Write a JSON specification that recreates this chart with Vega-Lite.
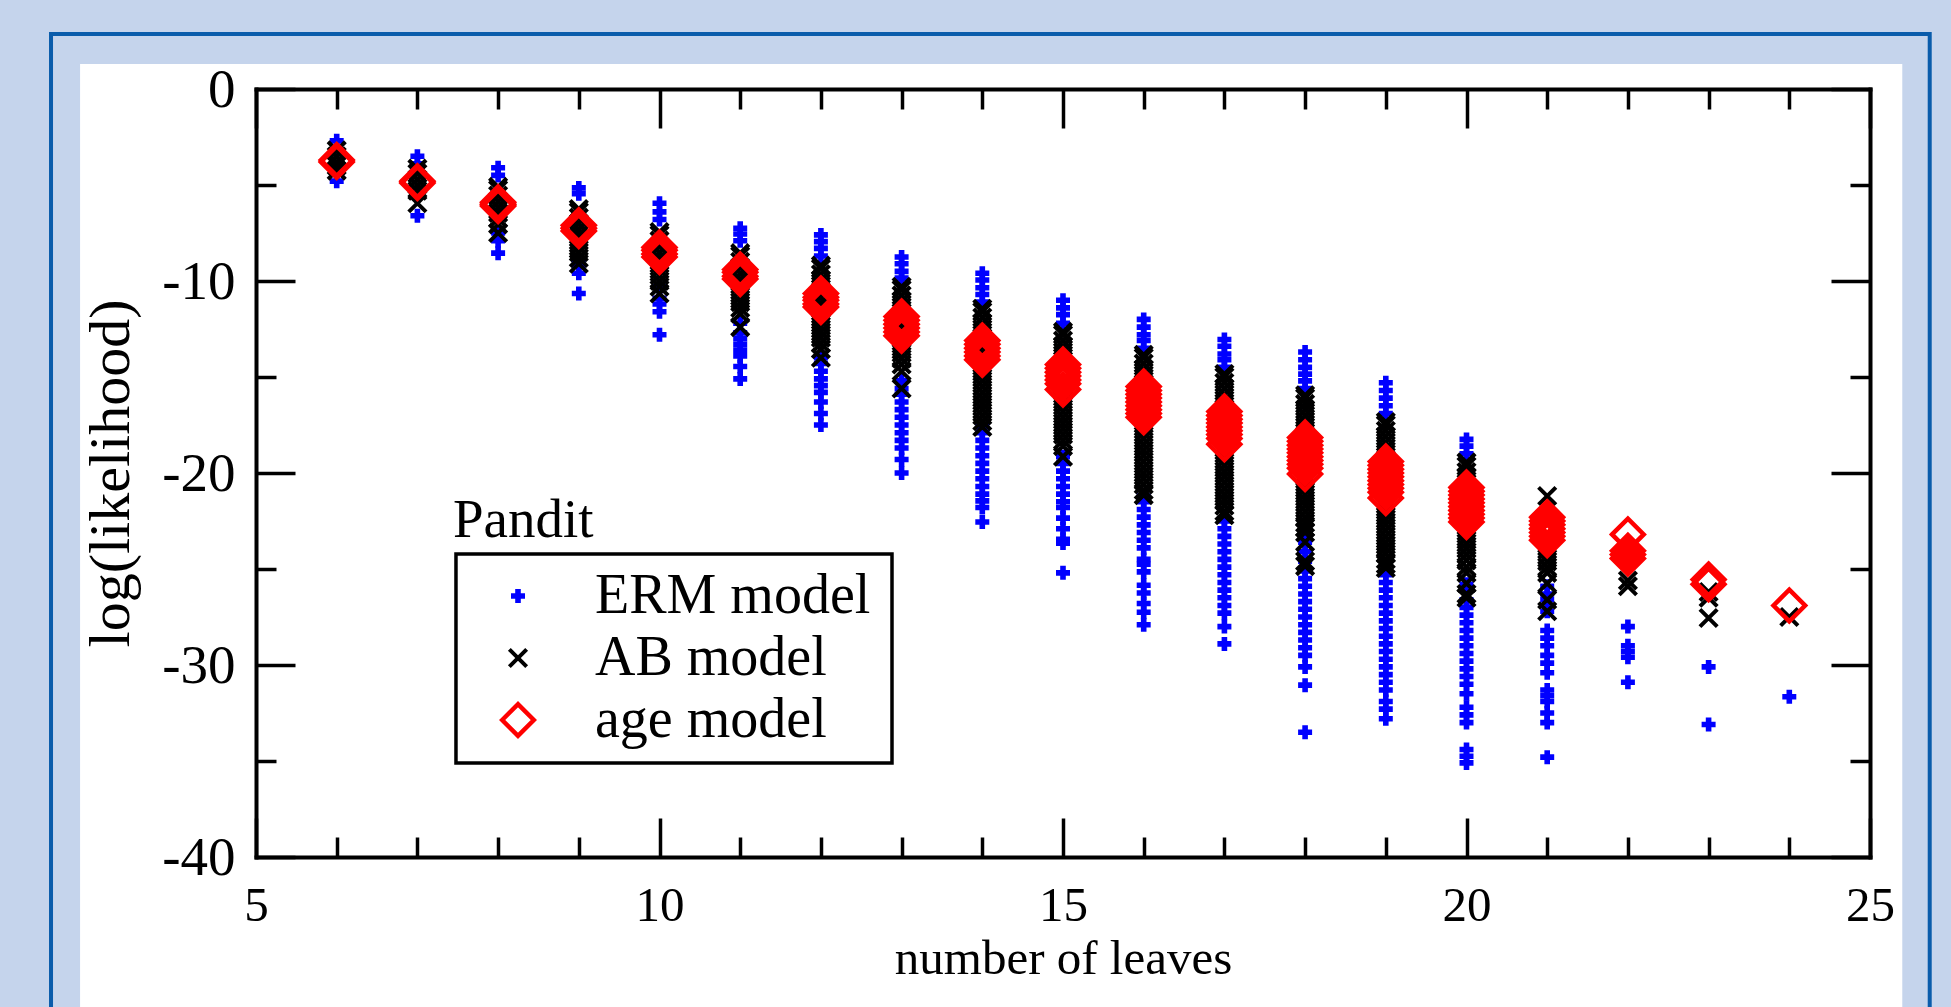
{"$schema":"https://vega.github.io/schema/vega-lite/v6.json","width":1614,"height":768,"padding":{"left":256,"top":89,"right":81,"bottom":150},"autosize":"none","background":"#C5D4EC","config":{"view":{"stroke":null},"axis":{"grid":false,"domainColor":"#000","tickColor":"#000","labelColor":"#000","titleColor":"#000","labelFont":"Liberation Serif","titleFont":"Liberation Serif","titleFontWeight":"normal","domainWidth":4,"domainCap":"square","labelOverlap":false,"labelBound":false,"labelFlush":false},"legend":{"labelFont":"Liberation Serif","labelFontSize":56,"labelColor":"#000","padding":0,"rowPadding":6,"labelOffset":49,"labelLimit":400}},"resolve":{"axis":{"x":"independent","y":"independent"}},"layer":[
{"data":{"values":[{"panel":"frame"}]},"mark":{"type":"rect","fill":"#C5D4EC","stroke":"#0A5CAB","strokeWidth":4},"encoding":{"x":{"datum":2.46,"type":"quantitative","scale":{"domain":[5,25],"nice":false},"axis":{"zindex":1,"orient":"bottom","values":[5,10,15,20,25],"tickSize":-39,"tickWidth":3.5,"labelFontSize":49,"labelPadding":63,"title":"number of leaves","titleFontSize":49,"titlePadding":4,"labelExpr":"''+datum.value"}},"x2":{"datum":25.74},"y":{"datum":2.865,"type":"quantitative","scale":{"domain":[-40,0],"nice":false},"axis":{"zindex":1,"orient":"left","values":[-40,-30,-20,-10,0],"tickSize":-39,"tickWidth":3.5,"labelFontSize":55,"labelPadding":60,"title":"log(likelihood)","titleFontSize":58,"titlePadding":21,"labelExpr":"''+datum.value"}},"y2":{"datum":-50}}},
{"data":{"values":[{"panel":"white"}]},"mark":{"type":"rect","fill":"#fff"},"encoding":{"x":{"datum":2.82,"type":"quantitative","scale":{"domain":[5,25],"nice":false},"axis":{"zindex":1,"orient":"bottom","values":[6,7,8,9,11,12,13,14,16,17,18,19,21,22,23,24],"tickSize":-20,"tickWidth":3.5,"domain":false,"labels":false,"title":null}},"x2":{"datum":25.4},"y":{"datum":1.3,"type":"quantitative","scale":{"domain":[-40,0],"nice":false},"axis":{"zindex":1,"orient":"left","values":[-35,-25,-15,-5],"tickSize":-20,"tickWidth":3.5,"domain":false,"labels":false,"title":null}},"y2":{"datum":-50}}},
{"data":{"values":[{"panel":"legend box"}]},"mark":{"type":"rect","fill":"#fff","stroke":"#000","strokeWidth":3.5},"encoding":{"x":{"datum":7.478,"type":"quantitative","scale":{"domain":[5,25],"nice":false},"axis":{"zindex":1,"orient":"top","values":[5,10,15,20,25],"tickSize":-39,"tickWidth":3.5,"labels":false,"title":null}},"x2":{"datum":12.881},"y":{"datum":-24.22,"type":"quantitative","scale":{"domain":[-40,0],"nice":false},"axis":{"zindex":1,"orient":"right","values":[-40,-30,-20,-10,0],"tickSize":-39,"tickWidth":3.5,"labels":false,"title":null}},"y2":{"datum":-35.1}}},
{"data":{"values":[{"t":"Pandit"}]},"mark":{"type":"text","align":"left","baseline":"alphabetic","font":"Liberation Serif","fontSize":55,"color":"#000"},"encoding":{"text":{"field":"t"},"x":{"datum":7.44,"type":"quantitative","scale":{"domain":[5,25],"nice":false},"axis":{"zindex":1,"orient":"top","values":[6,7,8,9,11,12,13,14,16,17,18,19,21,22,23,24],"tickSize":-20,"tickWidth":3.5,"domain":false,"labels":false,"title":null}},"y":{"datum":-23.33,"type":"quantitative","scale":{"domain":[-40,0],"nice":false},"axis":{"zindex":1,"orient":"right","values":[-35,-25,-15,-5],"tickSize":-20,"tickWidth":3.5,"domain":false,"labels":false,"title":null}}}},
{"data":{"values":[
{"n":6,"m":"ERM","v":-2.7},{"n":6,"m":"ERM","v":-3.3},{"n":6,"m":"ERM","v":-4.8},{"n":7,"m":"ERM","v":-3.5},{"n":7,"m":"ERM","v":-3.9},{"n":7,"m":"ERM","v":-5.5},{"n":7,"m":"ERM","v":-6.6},
{"n":8,"m":"ERM","v":-4.1},{"n":8,"m":"ERM","v":-4.5},{"n":8,"m":"ERM","v":-7.5},{"n":8,"m":"ERM","v":-7.9},{"n":8,"m":"ERM","v":-8.55},
{"n":9,"m":"ERM","v":-5.15},{"n":9,"m":"ERM","v":-5.45},{"n":9,"m":"ERM","v":-9},{"n":9,"m":"ERM","v":-9.2},{"n":9,"m":"ERM","v":-9.6},{"n":9,"m":"ERM","v":-10.65},
{"n":10,"m":"ERM","v":-5.95},{"n":10,"m":"ERM","v":-6.4},{"n":10,"m":"ERM","v":-6.8},{"n":10,"m":"ERM","v":-10.3},{"n":10,"m":"ERM","v":-10.9},{"n":10,"m":"ERM","v":-11.2},{"n":10,"m":"ERM","v":-11.6},{"n":10,"m":"ERM","v":-12.8},
{"n":11,"m":"ERM","v":-7.25},{"n":11,"m":"ERM","v":-7.55},{"n":11,"m":"ERM","v":-7.9},{"n":11,"m":"ERM","v":-12.2},{"n":11,"m":"ERM","v":-12.7},{"n":11,"m":"ERM","v":-13},{"n":11,"m":"ERM","v":-13.3},{"n":11,"m":"ERM","v":-13.6},{"n":11,"m":"ERM","v":-13.9},{"n":11,"m":"ERM","v":-14.45},{"n":11,"m":"ERM","v":-15.1},
{"n":12,"m":"ERM","v":-7.6},{"n":12,"m":"ERM","v":-7.95},{"n":12,"m":"ERM","v":-8.3},{"n":12,"m":"ERM","v":-8.7},{"n":12,"m":"ERM","v":-14},{"n":12,"m":"ERM","v":-14.3},{"n":12,"m":"ERM","v":-14.7},{"n":12,"m":"ERM","v":-15.1},{"n":12,"m":"ERM","v":-15.45},{"n":12,"m":"ERM","v":-15.8},{"n":12,"m":"ERM","v":-16.3},{"n":12,"m":"ERM","v":-16.9},{"n":12,"m":"ERM","v":-17.5},
{"n":13,"m":"ERM","v":-8.75},{"n":13,"m":"ERM","v":-9.1},{"n":13,"m":"ERM","v":-9.5},{"n":13,"m":"ERM","v":-9.85},{"n":13,"m":"ERM","v":-15.2},{"n":13,"m":"ERM","v":-15.6},{"n":13,"m":"ERM","v":-15.9},{"n":13,"m":"ERM","v":-16.3},{"n":13,"m":"ERM","v":-16.7},{"n":13,"m":"ERM","v":-17.1},{"n":13,"m":"ERM","v":-17.5},{"n":13,"m":"ERM","v":-17.9},{"n":13,"m":"ERM","v":-18.3},{"n":13,"m":"ERM","v":-18.7},{"n":13,"m":"ERM","v":-19.3},{"n":13,"m":"ERM","v":-20},
{"n":14,"m":"ERM","v":-9.6},{"n":14,"m":"ERM","v":-9.95},{"n":14,"m":"ERM","v":-10.35},{"n":14,"m":"ERM","v":-10.7},{"n":14,"m":"ERM","v":-11.1},{"n":14,"m":"ERM","v":-17.6},{"n":14,"m":"ERM","v":-17.9},{"n":14,"m":"ERM","v":-18.3},{"n":14,"m":"ERM","v":-18.7},{"n":14,"m":"ERM","v":-19.1},{"n":14,"m":"ERM","v":-19.5},{"n":14,"m":"ERM","v":-19.9},{"n":14,"m":"ERM","v":-20.3},{"n":14,"m":"ERM","v":-20.7},{"n":14,"m":"ERM","v":-21.1},{"n":14,"m":"ERM","v":-21.45},{"n":14,"m":"ERM","v":-21.8},{"n":14,"m":"ERM","v":-22.55},
{"n":15,"m":"ERM","v":-11},{"n":15,"m":"ERM","v":-11.4},{"n":15,"m":"ERM","v":-11.75},{"n":15,"m":"ERM","v":-12.2},{"n":15,"m":"ERM","v":-19.15},{"n":15,"m":"ERM","v":-19.5},{"n":15,"m":"ERM","v":-19.9},{"n":15,"m":"ERM","v":-20.3},{"n":15,"m":"ERM","v":-20.7},{"n":15,"m":"ERM","v":-21.1},{"n":15,"m":"ERM","v":-21.5},{"n":15,"m":"ERM","v":-21.8},{"n":15,"m":"ERM","v":-22.35},{"n":15,"m":"ERM","v":-22.9},{"n":15,"m":"ERM","v":-23.45},{"n":15,"m":"ERM","v":-23.65},{"n":15,"m":"ERM","v":-25.2},
{"n":16,"m":"ERM","v":-12},{"n":16,"m":"ERM","v":-12.4},{"n":16,"m":"ERM","v":-12.8},{"n":16,"m":"ERM","v":-13.1},{"n":16,"m":"ERM","v":-13.5},{"n":16,"m":"ERM","v":-21.2},{"n":16,"m":"ERM","v":-21.5},{"n":16,"m":"ERM","v":-21.9},{"n":16,"m":"ERM","v":-22.3},{"n":16,"m":"ERM","v":-22.7},{"n":16,"m":"ERM","v":-23.1},{"n":16,"m":"ERM","v":-23.5},{"n":16,"m":"ERM","v":-23.9},{"n":16,"m":"ERM","v":-24.5},{"n":16,"m":"ERM","v":-24.75},{"n":16,"m":"ERM","v":-25.15},{"n":16,"m":"ERM","v":-25.85},{"n":16,"m":"ERM","v":-26.25},{"n":16,"m":"ERM","v":-26.8},{"n":16,"m":"ERM","v":-27.25},{"n":16,"m":"ERM","v":-27.9},
{"n":17,"m":"ERM","v":-13.05},{"n":17,"m":"ERM","v":-13.4},{"n":17,"m":"ERM","v":-13.8},{"n":17,"m":"ERM","v":-14.1},{"n":17,"m":"ERM","v":-14.5},{"n":17,"m":"ERM","v":-22.5},{"n":17,"m":"ERM","v":-22.9},{"n":17,"m":"ERM","v":-23.3},{"n":17,"m":"ERM","v":-23.7},{"n":17,"m":"ERM","v":-24.1},{"n":17,"m":"ERM","v":-24.5},{"n":17,"m":"ERM","v":-24.9},{"n":17,"m":"ERM","v":-25.3},{"n":17,"m":"ERM","v":-25.7},{"n":17,"m":"ERM","v":-26.1},{"n":17,"m":"ERM","v":-26.5},{"n":17,"m":"ERM","v":-26.9},{"n":17,"m":"ERM","v":-27.3},{"n":17,"m":"ERM","v":-28},{"n":17,"m":"ERM","v":-28.9},
{"n":18,"m":"ERM","v":-13.7},{"n":18,"m":"ERM","v":-14.1},{"n":18,"m":"ERM","v":-14.5},{"n":18,"m":"ERM","v":-14.85},{"n":18,"m":"ERM","v":-15.2},{"n":18,"m":"ERM","v":-15.6},{"n":18,"m":"ERM","v":-23.2},{"n":18,"m":"ERM","v":-23.6},{"n":18,"m":"ERM","v":-24.1},{"n":18,"m":"ERM","v":-24.6},{"n":18,"m":"ERM","v":-25.1},{"n":18,"m":"ERM","v":-25.5},{"n":18,"m":"ERM","v":-25.9},{"n":18,"m":"ERM","v":-26.3},{"n":18,"m":"ERM","v":-26.7},{"n":18,"m":"ERM","v":-27.1},{"n":18,"m":"ERM","v":-27.5},{"n":18,"m":"ERM","v":-27.9},{"n":18,"m":"ERM","v":-28.3},{"n":18,"m":"ERM","v":-28.7},{"n":18,"m":"ERM","v":-29.1},{"n":18,"m":"ERM","v":-29.5},{"n":18,"m":"ERM","v":-30.1},{"n":18,"m":"ERM","v":-31.05},{"n":18,"m":"ERM","v":-33.5},
{"n":19,"m":"ERM","v":-15.3},{"n":19,"m":"ERM","v":-15.7},{"n":19,"m":"ERM","v":-16.1},{"n":19,"m":"ERM","v":-16.5},{"n":19,"m":"ERM","v":-16.9},{"n":19,"m":"ERM","v":-25.3},{"n":19,"m":"ERM","v":-25.7},{"n":19,"m":"ERM","v":-26.1},{"n":19,"m":"ERM","v":-26.5},{"n":19,"m":"ERM","v":-26.9},{"n":19,"m":"ERM","v":-27.3},{"n":19,"m":"ERM","v":-27.7},{"n":19,"m":"ERM","v":-28.1},{"n":19,"m":"ERM","v":-28.5},{"n":19,"m":"ERM","v":-28.9},{"n":19,"m":"ERM","v":-29.3},{"n":19,"m":"ERM","v":-29.7},{"n":19,"m":"ERM","v":-30.1},{"n":19,"m":"ERM","v":-30.5},{"n":19,"m":"ERM","v":-30.9},{"n":19,"m":"ERM","v":-31.3},{"n":19,"m":"ERM","v":-31.9},{"n":19,"m":"ERM","v":-32.3},{"n":19,"m":"ERM","v":-32.8},
{"n":20,"m":"ERM","v":-18.25},{"n":20,"m":"ERM","v":-18.6},{"n":20,"m":"ERM","v":-19},{"n":20,"m":"ERM","v":-25.8},{"n":20,"m":"ERM","v":-26},{"n":20,"m":"ERM","v":-26.6},{"n":20,"m":"ERM","v":-27},{"n":20,"m":"ERM","v":-27.4},{"n":20,"m":"ERM","v":-27.8},{"n":20,"m":"ERM","v":-28.2},{"n":20,"m":"ERM","v":-28.6},{"n":20,"m":"ERM","v":-29},{"n":20,"m":"ERM","v":-29.4},{"n":20,"m":"ERM","v":-29.8},{"n":20,"m":"ERM","v":-30.2},{"n":20,"m":"ERM","v":-30.6},{"n":20,"m":"ERM","v":-31},{"n":20,"m":"ERM","v":-31.5},{"n":20,"m":"ERM","v":-32.2},{"n":20,"m":"ERM","v":-32.6},{"n":20,"m":"ERM","v":-33},{"n":20,"m":"ERM","v":-34.4},{"n":20,"m":"ERM","v":-34.75},{"n":20,"m":"ERM","v":-35.1},
{"n":21,"m":"ERM","v":-25.9},{"n":21,"m":"ERM","v":-26.3},{"n":21,"m":"ERM","v":-26.6},{"n":21,"m":"ERM","v":-27.2},{"n":21,"m":"ERM","v":-28.2},{"n":21,"m":"ERM","v":-28.6},{"n":21,"m":"ERM","v":-29},{"n":21,"m":"ERM","v":-29.5},{"n":21,"m":"ERM","v":-29.9},{"n":21,"m":"ERM","v":-30.4},{"n":21,"m":"ERM","v":-31.3},{"n":21,"m":"ERM","v":-31.6},{"n":21,"m":"ERM","v":-31.9},{"n":21,"m":"ERM","v":-32.5},{"n":21,"m":"ERM","v":-33},{"n":21,"m":"ERM","v":-34.8},
{"n":22,"m":"ERM","v":-28},{"n":22,"m":"ERM","v":-29},{"n":22,"m":"ERM","v":-29.3},{"n":22,"m":"ERM","v":-29.6},{"n":22,"m":"ERM","v":-30.9},{"n":23,"m":"ERM","v":-30.1},{"n":23,"m":"ERM","v":-33.1},{"n":24,"m":"ERM","v":-31.65},
{"n":6,"m":"AB","v":-3.2},{"n":6,"m":"AB","v":-3.5},{"n":6,"m":"AB","v":-3.8},{"n":6,"m":"AB","v":-4},{"n":6,"m":"AB","v":-4.25},
{"n":7,"m":"AB","v":-4.15},{"n":7,"m":"AB","v":-4.4},{"n":7,"m":"AB","v":-4.7},{"n":7,"m":"AB","v":-5},{"n":7,"m":"AB","v":-5.3},{"n":7,"m":"AB","v":-5.95},
{"n":8,"m":"AB","v":-5.1},{"n":8,"m":"AB","v":-5.25},{"n":8,"m":"AB","v":-5.55},{"n":8,"m":"AB","v":-5.85},{"n":8,"m":"AB","v":-6.15},{"n":8,"m":"AB","v":-6.45},{"n":8,"m":"AB","v":-6.75},{"n":8,"m":"AB","v":-7.05},{"n":8,"m":"AB","v":-7.5},
{"n":9,"m":"AB","v":-6.25},{"n":9,"m":"AB","v":-6.4},{"n":9,"m":"AB","v":-6.7},{"n":9,"m":"AB","v":-7},{"n":9,"m":"AB","v":-7.3},{"n":9,"m":"AB","v":-7.6},{"n":9,"m":"AB","v":-7.9},{"n":9,"m":"AB","v":-8.2},{"n":9,"m":"AB","v":-8.5},{"n":9,"m":"AB","v":-8.8},{"n":9,"m":"AB","v":-9.1},
{"n":10,"m":"AB","v":-7.45},{"n":10,"m":"AB","v":-7.6},{"n":10,"m":"AB","v":-7.9},{"n":10,"m":"AB","v":-8.2},{"n":10,"m":"AB","v":-8.5},{"n":10,"m":"AB","v":-8.8},{"n":10,"m":"AB","v":-9.1},{"n":10,"m":"AB","v":-9.4},{"n":10,"m":"AB","v":-9.7},{"n":10,"m":"AB","v":-10},{"n":10,"m":"AB","v":-10.3},{"n":10,"m":"AB","v":-10.65},
{"n":11,"m":"AB","v":-8.55},{"n":11,"m":"AB","v":-8.7},{"n":11,"m":"AB","v":-9},{"n":11,"m":"AB","v":-9.3},{"n":11,"m":"AB","v":-9.6},{"n":11,"m":"AB","v":-9.9},{"n":11,"m":"AB","v":-10.2},{"n":11,"m":"AB","v":-10.5},{"n":11,"m":"AB","v":-10.8},{"n":11,"m":"AB","v":-11.1},{"n":11,"m":"AB","v":-11.4},{"n":11,"m":"AB","v":-11.7},{"n":11,"m":"AB","v":-12.4},
{"n":12,"m":"AB","v":-9.2},{"n":12,"m":"AB","v":-9.35},{"n":12,"m":"AB","v":-9.65},{"n":12,"m":"AB","v":-9.95},{"n":12,"m":"AB","v":-10.25},{"n":12,"m":"AB","v":-10.55},{"n":12,"m":"AB","v":-10.85},{"n":12,"m":"AB","v":-11.15},{"n":12,"m":"AB","v":-11.45},{"n":12,"m":"AB","v":-11.75},{"n":12,"m":"AB","v":-12.05},{"n":12,"m":"AB","v":-12.35},{"n":12,"m":"AB","v":-12.65},{"n":12,"m":"AB","v":-12.95},{"n":12,"m":"AB","v":-13.25},{"n":12,"m":"AB","v":-13.55},{"n":12,"m":"AB","v":-14},
{"n":13,"m":"AB","v":-10.3},{"n":13,"m":"AB","v":-10.45},{"n":13,"m":"AB","v":-10.75},{"n":13,"m":"AB","v":-11.05},{"n":13,"m":"AB","v":-11.35},{"n":13,"m":"AB","v":-11.65},{"n":13,"m":"AB","v":-11.95},{"n":13,"m":"AB","v":-12.25},{"n":13,"m":"AB","v":-12.55},{"n":13,"m":"AB","v":-12.85},{"n":13,"m":"AB","v":-13.15},{"n":13,"m":"AB","v":-13.45},{"n":13,"m":"AB","v":-13.75},{"n":13,"m":"AB","v":-14.05},{"n":13,"m":"AB","v":-14.35},{"n":13,"m":"AB","v":-14.7},{"n":13,"m":"AB","v":-15.6},
{"n":14,"m":"AB","v":-11.45},{"n":14,"m":"AB","v":-11.6},{"n":14,"m":"AB","v":-11.9},{"n":14,"m":"AB","v":-12.2},{"n":14,"m":"AB","v":-12.5},{"n":14,"m":"AB","v":-12.8},{"n":14,"m":"AB","v":-13.1},{"n":14,"m":"AB","v":-13.4},{"n":14,"m":"AB","v":-13.7},{"n":14,"m":"AB","v":-14},{"n":14,"m":"AB","v":-14.3},{"n":14,"m":"AB","v":-14.6},{"n":14,"m":"AB","v":-14.9},{"n":14,"m":"AB","v":-15.2},{"n":14,"m":"AB","v":-15.5},{"n":14,"m":"AB","v":-15.8},{"n":14,"m":"AB","v":-16.1},{"n":14,"m":"AB","v":-16.4},{"n":14,"m":"AB","v":-16.7},{"n":14,"m":"AB","v":-17},{"n":14,"m":"AB","v":-17.3},{"n":14,"m":"AB","v":-17.6},
{"n":15,"m":"AB","v":-12.65},{"n":15,"m":"AB","v":-12.8},{"n":15,"m":"AB","v":-13.1},{"n":15,"m":"AB","v":-13.4},{"n":15,"m":"AB","v":-13.7},{"n":15,"m":"AB","v":-14},{"n":15,"m":"AB","v":-15.9},{"n":15,"m":"AB","v":-16.2},{"n":15,"m":"AB","v":-16.5},{"n":15,"m":"AB","v":-16.8},{"n":15,"m":"AB","v":-17.1},{"n":15,"m":"AB","v":-17.4},{"n":15,"m":"AB","v":-17.7},{"n":15,"m":"AB","v":-18},{"n":15,"m":"AB","v":-18.3},{"n":15,"m":"AB","v":-18.6},{"n":15,"m":"AB","v":-19.15},
{"n":16,"m":"AB","v":-13.85},{"n":16,"m":"AB","v":-14},{"n":16,"m":"AB","v":-14.3},{"n":16,"m":"AB","v":-14.6},{"n":16,"m":"AB","v":-14.9},{"n":16,"m":"AB","v":-15.2},{"n":16,"m":"AB","v":-17.3},{"n":16,"m":"AB","v":-17.6},{"n":16,"m":"AB","v":-17.9},{"n":16,"m":"AB","v":-18.2},{"n":16,"m":"AB","v":-18.5},{"n":16,"m":"AB","v":-18.8},{"n":16,"m":"AB","v":-19.1},{"n":16,"m":"AB","v":-19.4},{"n":16,"m":"AB","v":-19.7},{"n":16,"m":"AB","v":-20},{"n":16,"m":"AB","v":-20.3},{"n":16,"m":"AB","v":-20.6},{"n":16,"m":"AB","v":-20.9},{"n":16,"m":"AB","v":-21.15},
{"n":17,"m":"AB","v":-14.85},{"n":17,"m":"AB","v":-15},{"n":17,"m":"AB","v":-15.3},{"n":17,"m":"AB","v":-15.6},{"n":17,"m":"AB","v":-15.9},{"n":17,"m":"AB","v":-16.2},{"n":17,"m":"AB","v":-16.5},{"n":17,"m":"AB","v":-18.7},{"n":17,"m":"AB","v":-19},{"n":17,"m":"AB","v":-19.3},{"n":17,"m":"AB","v":-19.6},{"n":17,"m":"AB","v":-19.9},{"n":17,"m":"AB","v":-20.2},{"n":17,"m":"AB","v":-20.5},{"n":17,"m":"AB","v":-20.8},{"n":17,"m":"AB","v":-21.1},{"n":17,"m":"AB","v":-21.4},{"n":17,"m":"AB","v":-21.7},{"n":17,"m":"AB","v":-22},{"n":17,"m":"AB","v":-22.2},
{"n":18,"m":"AB","v":-15.95},{"n":18,"m":"AB","v":-16.1},{"n":18,"m":"AB","v":-16.4},{"n":18,"m":"AB","v":-16.7},{"n":18,"m":"AB","v":-17},{"n":18,"m":"AB","v":-17.3},{"n":18,"m":"AB","v":-17.6},{"n":18,"m":"AB","v":-17.9},{"n":18,"m":"AB","v":-20.2},{"n":18,"m":"AB","v":-20.5},{"n":18,"m":"AB","v":-20.8},{"n":18,"m":"AB","v":-21.1},{"n":18,"m":"AB","v":-21.4},{"n":18,"m":"AB","v":-21.7},{"n":18,"m":"AB","v":-22},{"n":18,"m":"AB","v":-22.3},{"n":18,"m":"AB","v":-22.6},{"n":18,"m":"AB","v":-22.85},{"n":18,"m":"AB","v":-23.1},{"n":18,"m":"AB","v":-23.6},{"n":18,"m":"AB","v":-24.6},{"n":18,"m":"AB","v":-24.85},
{"n":19,"m":"AB","v":-17.35},{"n":19,"m":"AB","v":-17.5},{"n":19,"m":"AB","v":-17.8},{"n":19,"m":"AB","v":-18.1},{"n":19,"m":"AB","v":-18.4},{"n":19,"m":"AB","v":-18.7},{"n":19,"m":"AB","v":-19},{"n":19,"m":"AB","v":-19.3},{"n":19,"m":"AB","v":-21.5},{"n":19,"m":"AB","v":-21.8},{"n":19,"m":"AB","v":-22.1},{"n":19,"m":"AB","v":-22.4},{"n":19,"m":"AB","v":-22.7},{"n":19,"m":"AB","v":-23},{"n":19,"m":"AB","v":-23.3},{"n":19,"m":"AB","v":-23.6},{"n":19,"m":"AB","v":-23.9},{"n":19,"m":"AB","v":-24.2},{"n":19,"m":"AB","v":-24.5},{"n":19,"m":"AB","v":-24.75},{"n":19,"m":"AB","v":-24.95},
{"n":20,"m":"AB","v":-19.45},{"n":20,"m":"AB","v":-19.65},{"n":20,"m":"AB","v":-19.95},{"n":20,"m":"AB","v":-20.25},{"n":20,"m":"AB","v":-20.55},{"n":20,"m":"AB","v":-22.75},{"n":20,"m":"AB","v":-23.05},{"n":20,"m":"AB","v":-23.35},{"n":20,"m":"AB","v":-23.65},{"n":20,"m":"AB","v":-23.95},{"n":20,"m":"AB","v":-24.25},{"n":20,"m":"AB","v":-24.55},{"n":20,"m":"AB","v":-24.9},{"n":20,"m":"AB","v":-25.2},{"n":20,"m":"AB","v":-25.75},{"n":20,"m":"AB","v":-26.3},{"n":20,"m":"AB","v":-26.5},
{"n":21,"m":"AB","v":-21.2},{"n":21,"m":"AB","v":-23.7},{"n":21,"m":"AB","v":-24},{"n":21,"m":"AB","v":-24.3},{"n":21,"m":"AB","v":-24.6},{"n":21,"m":"AB","v":-24.9},{"n":21,"m":"AB","v":-25.2},{"n":21,"m":"AB","v":-25.75},{"n":21,"m":"AB","v":-26.6},{"n":21,"m":"AB","v":-27.2},
{"n":22,"m":"AB","v":-25.6},{"n":22,"m":"AB","v":-25.9},{"n":23,"m":"AB","v":-26.2},{"n":23,"m":"AB","v":-26.5},{"n":23,"m":"AB","v":-27.55},{"n":24,"m":"AB","v":-27.5},
{"n":6,"m":"age","v":-3.7},{"n":6,"m":"age","v":-3.8},{"n":7,"m":"age","v":-4.8},{"n":7,"m":"age","v":-4.9},{"n":8,"m":"age","v":-5.9},{"n":8,"m":"age","v":-6},{"n":8,"m":"age","v":-6.1},{"n":9,"m":"age","v":-7.1},{"n":9,"m":"age","v":-7.25},{"n":9,"m":"age","v":-7.4},{"n":10,"m":"age","v":-8.25},{"n":10,"m":"age","v":-8.4},{"n":10,"m":"age","v":-8.6},{"n":10,"m":"age","v":-8.75},{"n":11,"m":"age","v":-9.4},{"n":11,"m":"age","v":-9.55},{"n":11,"m":"age","v":-9.75},{"n":11,"m":"age","v":-9.9},
{"n":12,"m":"age","v":-10.65},{"n":12,"m":"age","v":-10.85},{"n":12,"m":"age","v":-11},{"n":12,"m":"age","v":-11.2},{"n":12,"m":"age","v":-11.35},{"n":13,"m":"age","v":-11.85},{"n":13,"m":"age","v":-12.05},{"n":13,"m":"age","v":-12.25},{"n":13,"m":"age","v":-12.45},{"n":13,"m":"age","v":-12.65},{"n":13,"m":"age","v":-12.85},{"n":14,"m":"age","v":-13.1},{"n":14,"m":"age","v":-13.3},{"n":14,"m":"age","v":-13.5},{"n":14,"m":"age","v":-13.7},{"n":14,"m":"age","v":-13.9},{"n":14,"m":"age","v":-14.1},
{"n":15,"m":"age","v":-14.35},{"n":15,"m":"age","v":-14.55},{"n":15,"m":"age","v":-14.75},{"n":15,"m":"age","v":-14.95},{"n":15,"m":"age","v":-15.15},{"n":15,"m":"age","v":-15.35},{"n":15,"m":"age","v":-15.65},{"n":16,"m":"age","v":-15.5},{"n":16,"m":"age","v":-15.7},{"n":16,"m":"age","v":-15.9},{"n":16,"m":"age","v":-16.1},{"n":16,"m":"age","v":-16.3},{"n":16,"m":"age","v":-16.5},{"n":16,"m":"age","v":-16.7},{"n":16,"m":"age","v":-16.9},{"n":16,"m":"age","v":-17.1},
{"n":17,"m":"age","v":-16.8},{"n":17,"m":"age","v":-17},{"n":17,"m":"age","v":-17.2},{"n":17,"m":"age","v":-17.4},{"n":17,"m":"age","v":-17.6},{"n":17,"m":"age","v":-17.8},{"n":17,"m":"age","v":-18},{"n":17,"m":"age","v":-18.2},{"n":17,"m":"age","v":-18.5},{"n":18,"m":"age","v":-18.15},{"n":18,"m":"age","v":-18.35},{"n":18,"m":"age","v":-18.55},{"n":18,"m":"age","v":-18.75},{"n":18,"m":"age","v":-18.95},{"n":18,"m":"age","v":-19.15},{"n":18,"m":"age","v":-19.35},{"n":18,"m":"age","v":-19.55},{"n":18,"m":"age","v":-19.75},{"n":18,"m":"age","v":-20.05},
{"n":19,"m":"age","v":-19.4},{"n":19,"m":"age","v":-19.6},{"n":19,"m":"age","v":-19.8},{"n":19,"m":"age","v":-20},{"n":19,"m":"age","v":-20.2},{"n":19,"m":"age","v":-20.4},{"n":19,"m":"age","v":-20.6},{"n":19,"m":"age","v":-20.8},{"n":19,"m":"age","v":-21},{"n":19,"m":"age","v":-21.3},{"n":20,"m":"age","v":-20.75},{"n":20,"m":"age","v":-20.95},{"n":20,"m":"age","v":-21.15},{"n":20,"m":"age","v":-21.35},{"n":20,"m":"age","v":-21.55},{"n":20,"m":"age","v":-21.75},{"n":20,"m":"age","v":-21.95},{"n":20,"m":"age","v":-22.15},{"n":20,"m":"age","v":-22.35},{"n":20,"m":"age","v":-22.55},
{"n":21,"m":"age","v":-22.3},{"n":21,"m":"age","v":-22.5},{"n":21,"m":"age","v":-22.7},{"n":21,"m":"age","v":-22.9},{"n":21,"m":"age","v":-23.1},{"n":21,"m":"age","v":-23.3},{"n":21,"m":"age","v":-23.5},{"n":22,"m":"age","v":-23.2},{"n":22,"m":"age","v":-24.05},{"n":22,"m":"age","v":-24.25},{"n":22,"m":"age","v":-24.45},{"n":23,"m":"age","v":-25.55},{"n":23,"m":"age","v":-25.8},{"n":24,"m":"age","v":-26.9}
]},"mark":{"type":"point","opacity":1},"encoding":{"x":{"field":"n","type":"quantitative","scale":{"domain":[5,25],"nice":false},"axis":null},"y":{"field":"v","type":"quantitative","scale":{"domain":[-40,0],"nice":false},"axis":null},
"shape":{"field":"m","type":"nominal","title":null,"scale":{"domain":["ERM","AB","age"],"range":["cross","M-1,-1L1,1M-1,1L1,-1","diamond"]},"legend":{"orient":"none","legendX":234,"legendY":479,"labelExpr":"datum.label+' model'"}},
"fill":{"field":"m","type":"nominal","title":null,"scale":{"domain":["ERM","AB","age"],"range":["#0000ff","transparent","transparent"]}},
"stroke":{"field":"m","type":"nominal","title":null,"scale":{"domain":["ERM","AB","age"],"range":["#0000ff","#000000","#ff0000"]}},
"size":{"field":"m","type":"ordinal","title":null,"scale":{"type":"ordinal","domain":["ERM","AB","age"],"range":[196,300,1000]}},
"strokeWidth":{"field":"m","type":"ordinal","title":null,"scale":{"type":"ordinal","domain":["ERM","AB","age"],"range":[0,4,4.5]}}}},
{"data":{"values":[{"n":22,"v":-24.25}]},"mark":{"type":"point","shape":"diamond","filled":true,"color":"#ff0000","size":500,"opacity":1},"encoding":{"x":{"field":"n","type":"quantitative","scale":{"domain":[5,25],"nice":false},"axis":null},"y":{"field":"v","type":"quantitative","scale":{"domain":[-40,0],"nice":false},"axis":null}}}
]}
